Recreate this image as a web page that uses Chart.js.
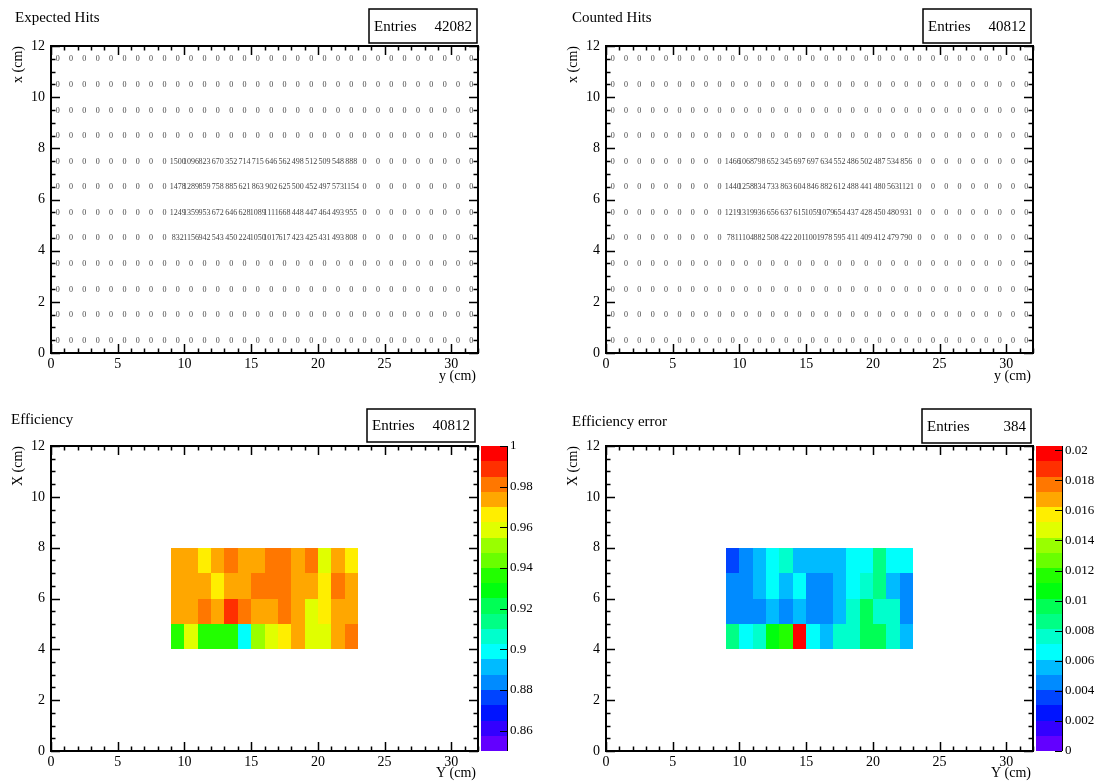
<!DOCTYPE html>
<html>
<head>
<meta charset="utf-8">
<script src="https://cdn.jsdelivr.net/npm/chart.js@4.4.1/dist/chart.umd.min.js"></script>
<style>
  body { margin: 0; background: #fff; width: 1097px; height: 783px; position: relative; overflow: hidden; }
  canvas { position: absolute; }
</style>
</head>
<body>
<canvas id="expected-hits" width="548" height="391" style="left:0;top:0"></canvas>
<canvas id="counted-hits" width="548" height="391" style="left:555px;top:0"></canvas>
<canvas id="efficiency" width="548" height="383" style="left:0;top:400px"></canvas>
<canvas id="efficiency-error" width="548" height="383" style="left:555px;top:400px"></canvas>
<script>
// bin centres (cm): horizontal axis is y, vertical axis is x
const colCentres = [9.5, 10.5, 11.5, 12.5, 13.5, 14.5, 15.5, 16.5, 17.5, 18.5, 19.5, 20.5, 21.5, 22.5];
const rowCentres = [7.5, 6.5, 5.5, 4.5];

const expectedHits = [
  [1500, 1096, 823, 670, 352, 714, 715, 646, 562, 498, 512, 509, 548, 888],
  [1478, 1289, 859, 758, 885, 621, 863, 902, 625, 500, 452, 497, 573, 1154],
  [1249, 1359, 953, 672, 646, 628, 1089, 1111, 668, 448, 447, 464, 493, 955],
  [832, 1156, 942, 543, 450, 224, 1050, 1017, 617, 423, 425, 431, 493, 808],
];
const countedHits = [
  [1466, 1068, 798, 652, 345, 697, 697, 634, 552, 486, 502, 487, 534, 856],
  [1440, 1258, 834, 733, 863, 604, 846, 882, 612, 488, 441, 480, 563, 1121],
  [1219, 1319, 936, 656, 637, 615, 1059, 1079, 654, 437, 428, 450, 480, 931],
  [781, 1104, 882, 508, 422, 201, 1001, 978, 595, 411, 409, 412, 479, 790],
];

const entries = ['42082', '40812', '40812', '384'];
const xTicks = [0, 5, 10, 15, 20, 25, 30];
const yTicks = [0, 2, 4, 6, 8, 10, 12];
const effTicks = [0.86, 0.88, 0.9, 0.92, 0.94, 0.96, 0.98, 1];
const errTicks = [0, 0.002, 0.004, 0.006, 0.008, 0.01, 0.012, 0.014, 0.016, 0.018, 0.02];
const effRange = [0.85, 1.0];

const serif = '"Liberation Serif", "DejaVu Serif", serif';

// ROOT "pretty" palette: 50 hues violet -> red, 20 contours
function bandColor(b) {
  const idx = Math.floor((b + 0.99) * 50 / 20);
  const hue = 280 - (idx + 1) * 5.6;
  return `hsl(${hue}, 100%, 50%)`;
}
function valueColor(v, lo, hi) {
  let b = Math.floor((v - lo) / (hi - lo) * 20);
  b = Math.max(0, Math.min(19, b));
  return bandColor(b);
}

function block(fn) {
  const pts = [];
  rowCentres.forEach((xc, r) => colCentres.forEach((yc, c) => pts.push({ x: yc, y: xc, v: fn(r, c) })));
  return pts;
}

const hitsExp = block((r, c) => expectedHits[r][c]);
const hitsCnt = block((r, c) => countedHits[r][c]);
const eff = block((r, c) => countedHits[r][c] / expectedHits[r][c]);
const effErr = block((r, c) => {
  const e = countedHits[r][c] / expectedHits[r][c];
  return Math.sqrt(e * (1 - e) / expectedHits[r][c]);
});
const errMax = Math.max(...effErr.map(p => p.v));

const rootStyle = {
  id: 'rootStyle',
  beforeDatasetsDraw(chart, args, o) {
    if (o.mode !== 'colz') return;
    const { ctx, chartArea: a, scales: { x, y, z } } = chart;
    ctx.save();
    chart.data.datasets[0].data.forEach(p => {
      const x0 = Math.round(x.getPixelForValue(p.x - 0.5)), x1 = Math.round(x.getPixelForValue(p.x + 0.5));
      const y0 = Math.round(y.getPixelForValue(p.y + 0.5)), y1 = Math.round(y.getPixelForValue(p.y - 0.5));
      ctx.fillStyle = valueColor(p.v, z.min, z.max);
      ctx.fillRect(x0, y0, x1 - x0, y1 - y0);
    });
    // colour bar
    const bx = a.right + 3, bw = 26;
    const step = (z.max - z.min) / 20;
    for (let b = 0; b < 20; b++) {
      const ya = Math.round(z.getPixelForValue(z.min + (b + 1) * step));
      const yb = Math.round(z.getPixelForValue(z.min + b * step));
      ctx.fillStyle = bandColor(b);
      ctx.fillRect(bx, ya, bw, yb - ya);
    }
    ctx.strokeStyle = '#000';
    ctx.lineWidth = 1;
    ctx.beginPath();
    ctx.moveTo(bx + bw + 0.5, a.top);
    ctx.lineTo(bx + bw + 0.5, a.bottom);
    z.ticks.forEach(t => {
      const py = Math.round(z.getPixelForValue(t.value)) + 0.5;
      ctx.moveTo(bx + bw, py);
      ctx.lineTo(bx + bw - 7, py);
    });
    ctx.stroke();
    ctx.restore();
  },
  afterDatasetsDraw(chart, args, o) {
    if (o.mode !== 'text') return;
    const { ctx, scales: { x, y } } = chart;
    const vals = {};
    chart.data.datasets[0].data.forEach(p => { vals[p.x + ',' + p.y] = p.v; });
    ctx.save();
    ctx.font = '8px ' + serif;
    ctx.fillStyle = '#444';
    ctx.textAlign = 'center';
    ctx.textBaseline = 'middle';
    for (let i = x.min; i < x.max; i++) {
      for (let j = y.min; j < y.max; j++) {
        const v = vals[(i + 0.5) + ',' + (j + 0.5)] || 0;
        ctx.fillText(String(v), x.getPixelForValue(i + 0.5), y.getPixelForValue(j + 0.5) + 0.5);
      }
    }
    ctx.restore();
  },
  afterDraw(chart, args, o) {
    const { ctx, chartArea: a, scales: { x, y } } = chart;
    ctx.save();
    ctx.strokeStyle = '#000';
    ctx.lineWidth = 1.5;
    ctx.beginPath();
    for (let v = x.min; v <= x.max; v += 1) {
      const px = Math.round(x.getPixelForValue(v)) + 0.5;
      const len = xTicks.includes(v) ? 9 : 4.5;
      ctx.moveTo(px, a.bottom); ctx.lineTo(px, a.bottom - len);
      ctx.moveTo(px, a.top); ctx.lineTo(px, a.top + len);
    }
    for (let v = y.min; v <= y.max; v += 0.5) {
      const py = Math.round(y.getPixelForValue(v)) + 0.5;
      const len = yTicks.includes(v) ? 9 : 4.5;
      ctx.moveTo(a.left, py); ctx.lineTo(a.left + len, py);
      ctx.moveTo(a.right, py); ctx.lineTo(a.right - len, py);
    }
    ctx.stroke();
    ctx.lineWidth = 2;
    ctx.strokeRect(a.left, a.top, a.right - a.left, a.bottom - a.top);

    // titles
    ctx.fillStyle = '#000';
    ctx.textBaseline = 'middle';
    ctx.font = '15px ' + serif;
    ctx.textAlign = 'left';
    ctx.fillText(o.title, o.titleX, o.titleY);

    // entries box
    const bxs = o.box;
    ctx.lineWidth = 1.5;
    ctx.strokeRect(bxs[0], bxs[1], bxs[2], bxs[3]);
    ctx.fillText('Entries', bxs[0] + 5, bxs[1] + bxs[3] / 2 + 1);
    ctx.textAlign = 'right';
    ctx.fillText(o.entries, bxs[0] + bxs[2] - 5, bxs[1] + bxs[3] / 2 + 1);

    // axis titles
    ctx.font = '14px ' + serif;
    ctx.fillText(o.xTitle, a.right - 2, a.bottom + o.xTitleOff);
    ctx.translate(18, a.top);
    ctx.rotate(-Math.PI / 2);
    ctx.textAlign = 'right';
    ctx.fillText(o.yTitle, 0, 0);
    ctx.restore();
  }
};

function makePanel(id, data, o) {
  const tickFont = { family: serif, size: 14 };
  const scales = {
    x: {
      type: 'linear', min: 0, max: 32,
      afterBuildTicks: s => { s.ticks = xTicks.map(v => ({ value: v })); },
      afterFit: s => { s.height = o.xAxisH; },
      grid: { display: false, drawTicks: false }, border: { display: false },
      ticks: { padding: 3, font: tickFont, color: '#000', maxRotation: 0, autoSkip: false },
    },
    y: {
      type: 'linear', min: 0, max: 12,
      afterBuildTicks: s => { s.ticks = yTicks.map(v => ({ value: v })); },
      afterFit: s => { s.width = 51; },
      grid: { display: false, drawTicks: false }, border: { display: false },
      ticks: { padding: 6, font: tickFont, color: '#000', autoSkip: false },
    },
  };
  if (o.z) {
    scales.z = {
      type: 'linear', position: 'right', min: o.z[0], max: o.z[1],
      afterBuildTicks: s => { s.ticks = o.zTicks.map(v => ({ value: v })); },
      afterFit: s => { s.width = 70; s.paddingTop = 0; s.paddingBottom = 0; },
      grid: { display: false, drawTicks: false }, border: { display: false },
      ticks: { padding: 32, font: { family: serif, size: 13 }, color: '#000', autoSkip: false,
               callback: v => String(+v.toFixed(4)) },
    };
  }
  new Chart(document.getElementById(id), {
    type: 'scatter',
    data: { datasets: [{ data: data, pointRadius: 0, pointHoverRadius: 0 }] },
    options: {
      responsive: false,
      animation: false,
      devicePixelRatio: 1,
      layout: { padding: { top: 46, left: 0, right: o.z ? 0 : 70, bottom: 0 } },
      scales: scales,
      plugins: {
        legend: { display: false },
        tooltip: { enabled: false },
        rootStyle: o,
      },
    },
    plugins: [rootStyle],
  });
}

makePanel('expected-hits', hitsExp, {
  mode: 'text', xAxisH: 38, title: 'Expected Hits', titleX: 15, titleY: 18,
  box: [369, 9, 108, 34], entries: entries[0], xTitle: 'y (cm)', yTitle: 'x (cm)', xTitleOff: 23,
});
makePanel('counted-hits', hitsCnt, {
  mode: 'text', xAxisH: 38, title: 'Counted Hits', titleX: 17, titleY: 18,
  box: [368, 9, 108, 34], entries: entries[1], xTitle: 'y (cm)', yTitle: 'x (cm)', xTitleOff: 23,
});
makePanel('efficiency', eff, {
  mode: 'colz', xAxisH: 32, title: 'Efficiency', titleX: 11, titleY: 20,
  box: [367, 9, 108, 33], entries: entries[2], xTitle: 'Y (cm)', yTitle: 'X (cm)', xTitleOff: 22,
  z: effRange, zTicks: effTicks,
});
makePanel('efficiency-error', effErr, {
  mode: 'colz', xAxisH: 32, title: 'Efficiency error', titleX: 17, titleY: 22,
  box: [367, 9, 109, 34], entries: entries[3], xTitle: 'Y (cm)', yTitle: 'X (cm)', xTitleOff: 22,
  z: [0, errMax], zTicks: errTicks,
});
</script>
</body>
</html>
